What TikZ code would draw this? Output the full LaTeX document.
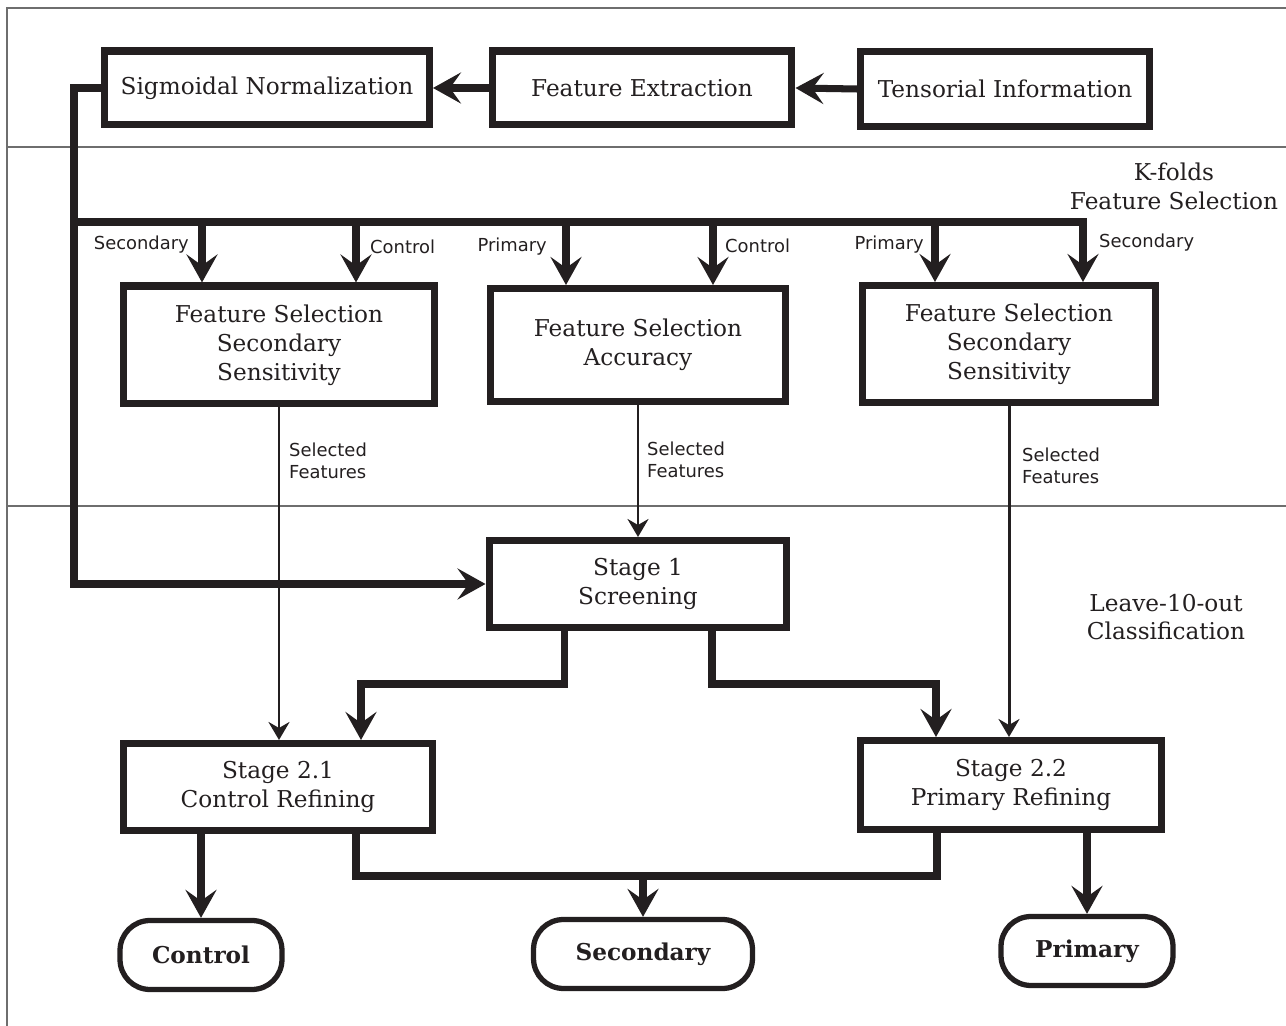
\documentclass[tikz,border=0pt]{standalone}
\usepackage{fontspec}
\setmainfont{DejaVu Serif}
\setsansfont{DejaVu Sans}
\usetikzlibrary{arrows.meta}

\definecolor{ink}{RGB}{35,31,32}
\definecolor{frameGray}{RGB}{110,110,110}

\begin{document}
\begin{tikzpicture}[x=0.02cm, y=-0.02cm, ink, font=\fontsize{13.2}{16.4}\selectfont,
  box/.style={draw, line width=4pt, align=center, inner sep=0pt},
  term/.style={draw, line width=3pt, rounded corners=0.6cm, inner sep=0pt,
    minimum height=1.38cm, font=\fontsize{13.2}{15}\selectfont\bfseries},
  flow/.style={line width=4pt},
  flowarrow/.style={flow, -{Stealth[length=0.56cm, width=0.62cm, inset=0.22cm]}},
  selarrow/.style={line width=1.7pt, -{Stealth[length=0.36cm, width=0.42cm, inset=0.12cm]}},
  lbl/.style={font=\sffamily\fontsize{10.2}{12.5}\selectfont},
  region/.style={align=center}]

\useasboundingbox (0,0) rectangle (1286,1026);

% frame and bands
\begin{scope}[frameGray, line width=0.6pt]
\draw (1286,8) -- (7,8) -- (7,1026);
\draw (7,147) -- (1286,147);
\draw (7,506) -- (1286,506);
\end{scope}

% input row
\node[box, minimum width=6.5cm, minimum height=1.48cm] (sig) at (267,88) {Sigmoidal Normalization};
\node[box, minimum width=6.0cm, minimum height=1.48cm] (fe) at (642,88) {Feature Extraction};
\node[box, minimum width=5.78cm, minimum height=1.5cm] (ti) at (1005,89) {Tensorial Information};

% k-folds feature selection
\node[region] (kfold) at (1174,186) {K-folds\\Feature Selection};
\node[box, minimum width=6.22cm, minimum height=2.36cm] (fsl) at (279,345) {Feature Selection\\Secondary\\Sensitivity};
\node[box, minimum width=5.9cm, minimum height=2.26cm] (fsa) at (638,345) {Feature Selection\\Accuracy};
\node[box, minimum width=5.88cm, minimum height=2.34cm] (fsr) at (1009,344) {Feature Selection\\Secondary\\Sensitivity};

% leave-10-out classification
\node[region] (loo) at (1166,617) {Leave-10-out\\Classification};
\node[box, minimum width=5.96cm, minimum height=1.74cm] (s1) at (638,584) {Stage 1\\Screening};
\node[box, minimum width=6.2cm, minimum height=1.74cm] (s21) at (278,787) {Stage 2.1\\Control Refining};
\node[box, minimum width=6.04cm, minimum height=1.78cm] (s22) at (1011,785) {Stage 2.2\\Primary Refining};

\node[term, minimum width=3.24cm] (ctl) at (201,955) {Control};
\node[term, minimum width=4.38cm] (sec) at (643,954) {Secondary};
\node[term, minimum width=3.44cm] (pri) at (1087,951) {Primary};

% bus
\coordinate (busL) at (74,222);
\coordinate (busR) at (1083,222);
\coordinate (d1) at (202,222);
\coordinate (d2) at (356,222);
\coordinate (d3) at (566,222);
\coordinate (d4) at (713,222);
\coordinate (d5) at (935,222);

\draw[flowarrow] (ti.west) -- (fe.east);
\draw[flowarrow] (fe.west) -- (sig.east);
\draw[flowarrow] (sig.west) -| (busL) -- (busR) -- (busR |- fsr.north);
\draw[flowarrow] (busL) |- (s1.west);
\draw[flowarrow] (d1) -- (d1 |- fsl.north);
\draw[flowarrow] (d2) -- (d2 |- fsl.north);
\draw[flowarrow] (d3) -- (d3 |- fsa.north);
\draw[flowarrow] (d4) -- (d4 |- fsa.north);
\draw[flowarrow] (d5) -- (d5 |- fsr.north);

\node[lbl, anchor=east] (lsec1) at (195,245) {Secondary};
\node[lbl, anchor=west] (lctl1) at (364,247) {Control};
\node[lbl, anchor=east] (lpri1) at (553,247) {Primary};
\node[lbl, anchor=west] (lctl2) at (719,246) {Control};
\node[lbl, anchor=east] (lpri2) at (930,245) {Primary};
\node[lbl, anchor=west] (lsec2) at (1093,243) {Secondary};

% selected features
\draw[selarrow] (fsl.south) -- (fsl.south |- s21.north);
\draw[selarrow] (fsa.south) -- (s1.north);
\draw[selarrow] (fsr.south) -- (fsr.south |- s22.north);
\node[lbl, anchor=west, align=left] (sell) at (283,461) {Selected\\Features};
\node[lbl, anchor=west, align=left] (selm) at (641,460) {Selected\\Features};
\node[lbl, anchor=west, align=left] (selr) at (1016,466) {Selected\\Features};

% screening to refining
\coordinate (j1) at (361,684);
\coordinate (j2) at (936,684);
\draw[flowarrow] ([xshift=-1.48cm]s1.south) |- (j1) -- (j1 |- s21.north);
\draw[flowarrow] ([xshift=1.48cm]s1.south) |- (j2) -- (j2 |- s22.north);

% outcomes
\coordinate (m1) at (356,876);
\coordinate (m2) at (937,876);
\draw[flowarrow] (ctl.north |- s21.south) -- (ctl.north);
\draw[flowarrow] (pri.north |- s22.south) -- (pri.north);
\draw[flow] (m1 |- s21.south) -- (m1) -- (m2) -- (m2 |- s22.south);
\draw[flowarrow] (sec.north |- m1) -- (sec.north);
\end{tikzpicture}
\end{document}
